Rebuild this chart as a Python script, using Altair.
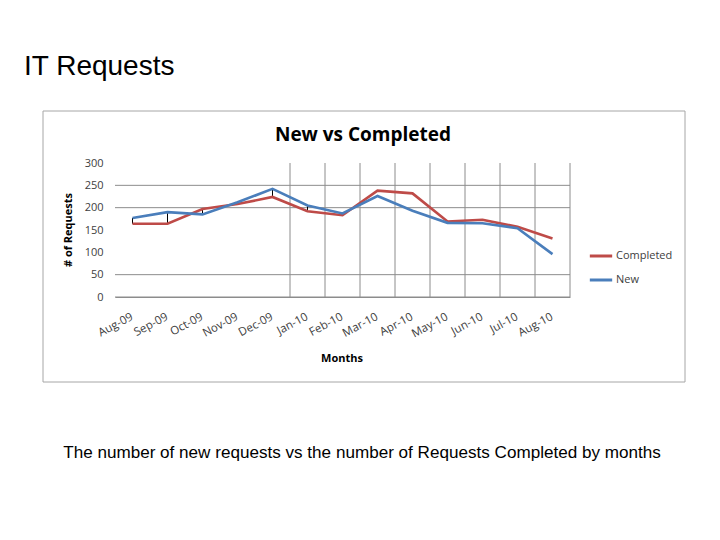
import altair as alt
import pandas as pd

# Monthly request counts
months = ["Aug-09", "Sep-09", "Oct-09", "Nov-09", "Dec-09", "Jan-10", "Feb-10",
          "Mar-10", "Apr-10", "May-10", "Jun-10", "Jul-10", "Aug-10"]
completed = [164, 164, 197, 208, 224, 192, 183, 238, 232, 169, 173, 157, 131]
new = [177, 190, 185, 212, 242, 205, 187, 226, 193, 166, 165, 154, 96]

series_names = ["Completed", "New"]
series_colors = ["#BE4B48", "#4A7EBB"]

# Horizontal gridlines that are drawn, and the months with category dividers
grid_values = [0, 50, 200, 250]
divider_months = ["Jan-10", "Feb-10", "Mar-10", "Apr-10", "May-10", "Jun-10",
                  "Jul-10", "Aug-10"]
# Months showing a high-low connector between the two series
hilo_months = ["Aug-09", "Sep-09", "Oct-09", "Nov-09", "Dec-09", "Jan-10"]

long_df = pd.DataFrame({
    "Month": months * 2,
    "Series": ["Completed"] * len(months) + ["New"] * len(months),
    "Requests": completed + new,
})
wide_df = pd.DataFrame({"Month": months, "Completed": completed, "New": new})
hilo_df = wide_df[wide_df["Month"].isin(hilo_months)]
grid_df = pd.DataFrame({"v": grid_values})
div_df = pd.DataFrame({"Month": divider_months})
edge_df = pd.DataFrame({"Month": [months[-1]]})
one = pd.DataFrame({"a": [0]})

FONT = "Open Sans"
x_scale = alt.Scale(domain=months, paddingInner=0, paddingOuter=0)
y_scale = alt.Scale(domain=[0, 300])

x_axis = alt.Axis(labelAngle=332, labelFont=FONT, labelFontSize=11.5,
                  labelColor="#404040", labelPadding=19, ticks=False,
                  domainColor="#8C8C8C", labelAlign="right",
                  labelBaseline="middle", grid=False)
y_axis = alt.Axis(values=[0, 50, 100, 150, 200, 250, 300], grid=False,
                  domain=False, ticks=False, labelFont=FONT,
                  labelFontSize=11, labelColor="#404040", labelPadding=12)

# Outer frame around the chart object
frame = alt.Chart(one).mark_rect(fillOpacity=0, stroke="#A6A6A6", strokeWidth=1).encode(
    x=alt.value(-72), x2=alt.value(570), y=alt.value(-52), y2=alt.value(219)
)

hgrid = alt.Chart(grid_df).mark_rule(color="#8C8C8C", strokeWidth=1).encode(
    y=alt.Y("v:Q", scale=y_scale, title=None, axis=y_axis)
)

vdiv = alt.Chart(div_df).mark_rule(color="#8C8C8C", strokeWidth=1).encode(
    x=alt.X("Month:N", scale=x_scale, sort=months, bandPosition=0, title=None,
            axis=x_axis),
    y=alt.value(0), y2=alt.value(134),
)
vedge = alt.Chart(edge_df).mark_rule(color="#8C8C8C", strokeWidth=1).encode(
    x=alt.X("Month:N", scale=x_scale, sort=months, bandPosition=1, title=None,
            axis=x_axis),
    y=alt.value(0), y2=alt.value(134),
)

hilo = alt.Chart(hilo_df).mark_rule(color="black", strokeWidth=1).encode(
    x=alt.X("Month:N", scale=x_scale, sort=months, title=None, axis=x_axis),
    y=alt.Y("Completed:Q", scale=y_scale, title=None, axis=y_axis),
    y2="New:Q",
)

lines = alt.Chart(long_df).mark_line(strokeWidth=2.6).encode(
    x=alt.X("Month:N", scale=x_scale, sort=months, title=None, axis=x_axis),
    y=alt.Y("Requests:Q", scale=y_scale, title=None, axis=y_axis),
    color=alt.Color("Series:N",
                    scale=alt.Scale(domain=series_names, range=series_colors),
                    legend=alt.Legend(title=None, orient="none", legendX=473,
                                      legendY=80, symbolType="stroke",
                                      symbolStrokeWidth=3, symbolSize=500,
                                      labelFont=FONT, labelFontSize=11,
                                      labelColor="#404040", rowPadding=5,
                                      labelOffset=2)),
)

def label(text, x, y, size, weight="normal", font=FONT, align="center", angle=0,
          color="black"):
    return alt.Chart(one).mark_text(
        text=text, fontSize=size, fontWeight=weight, font=font, align=align,
        baseline="alphabetic", angle=angle, color=color,
    ).encode(x=alt.value(x), y=alt.value(y))

page_title = label("IT Requests", -91, -88, 28, font="Liberation Sans", align="left")
chart_title = label("New vs Completed", 248, -22, 19, weight="bold")
y_title = label("# of Requests", -43, 67, 11, weight="bold", angle=270)
x_title = label("Months", 227, 199, 11, weight="bold")
caption = label("The number of new requests vs the number of Requests Completed by months",
                247, 295, 17.1, font="Liberation Sans")

chart = alt.layer(
    frame, hgrid, vdiv, vedge, hilo, lines,
    page_title, chart_title, y_title, x_title, caption,
).properties(
    width=455, height=134,
    autosize=alt.AutoSizeParams(type="none"),
    padding={"left": 115, "top": 163, "right": 150, "bottom": 243},
    background="white",
).configure_view(stroke=None)

chart.save("out.html", embed_options={"renderer": "svg", "actions": False})
